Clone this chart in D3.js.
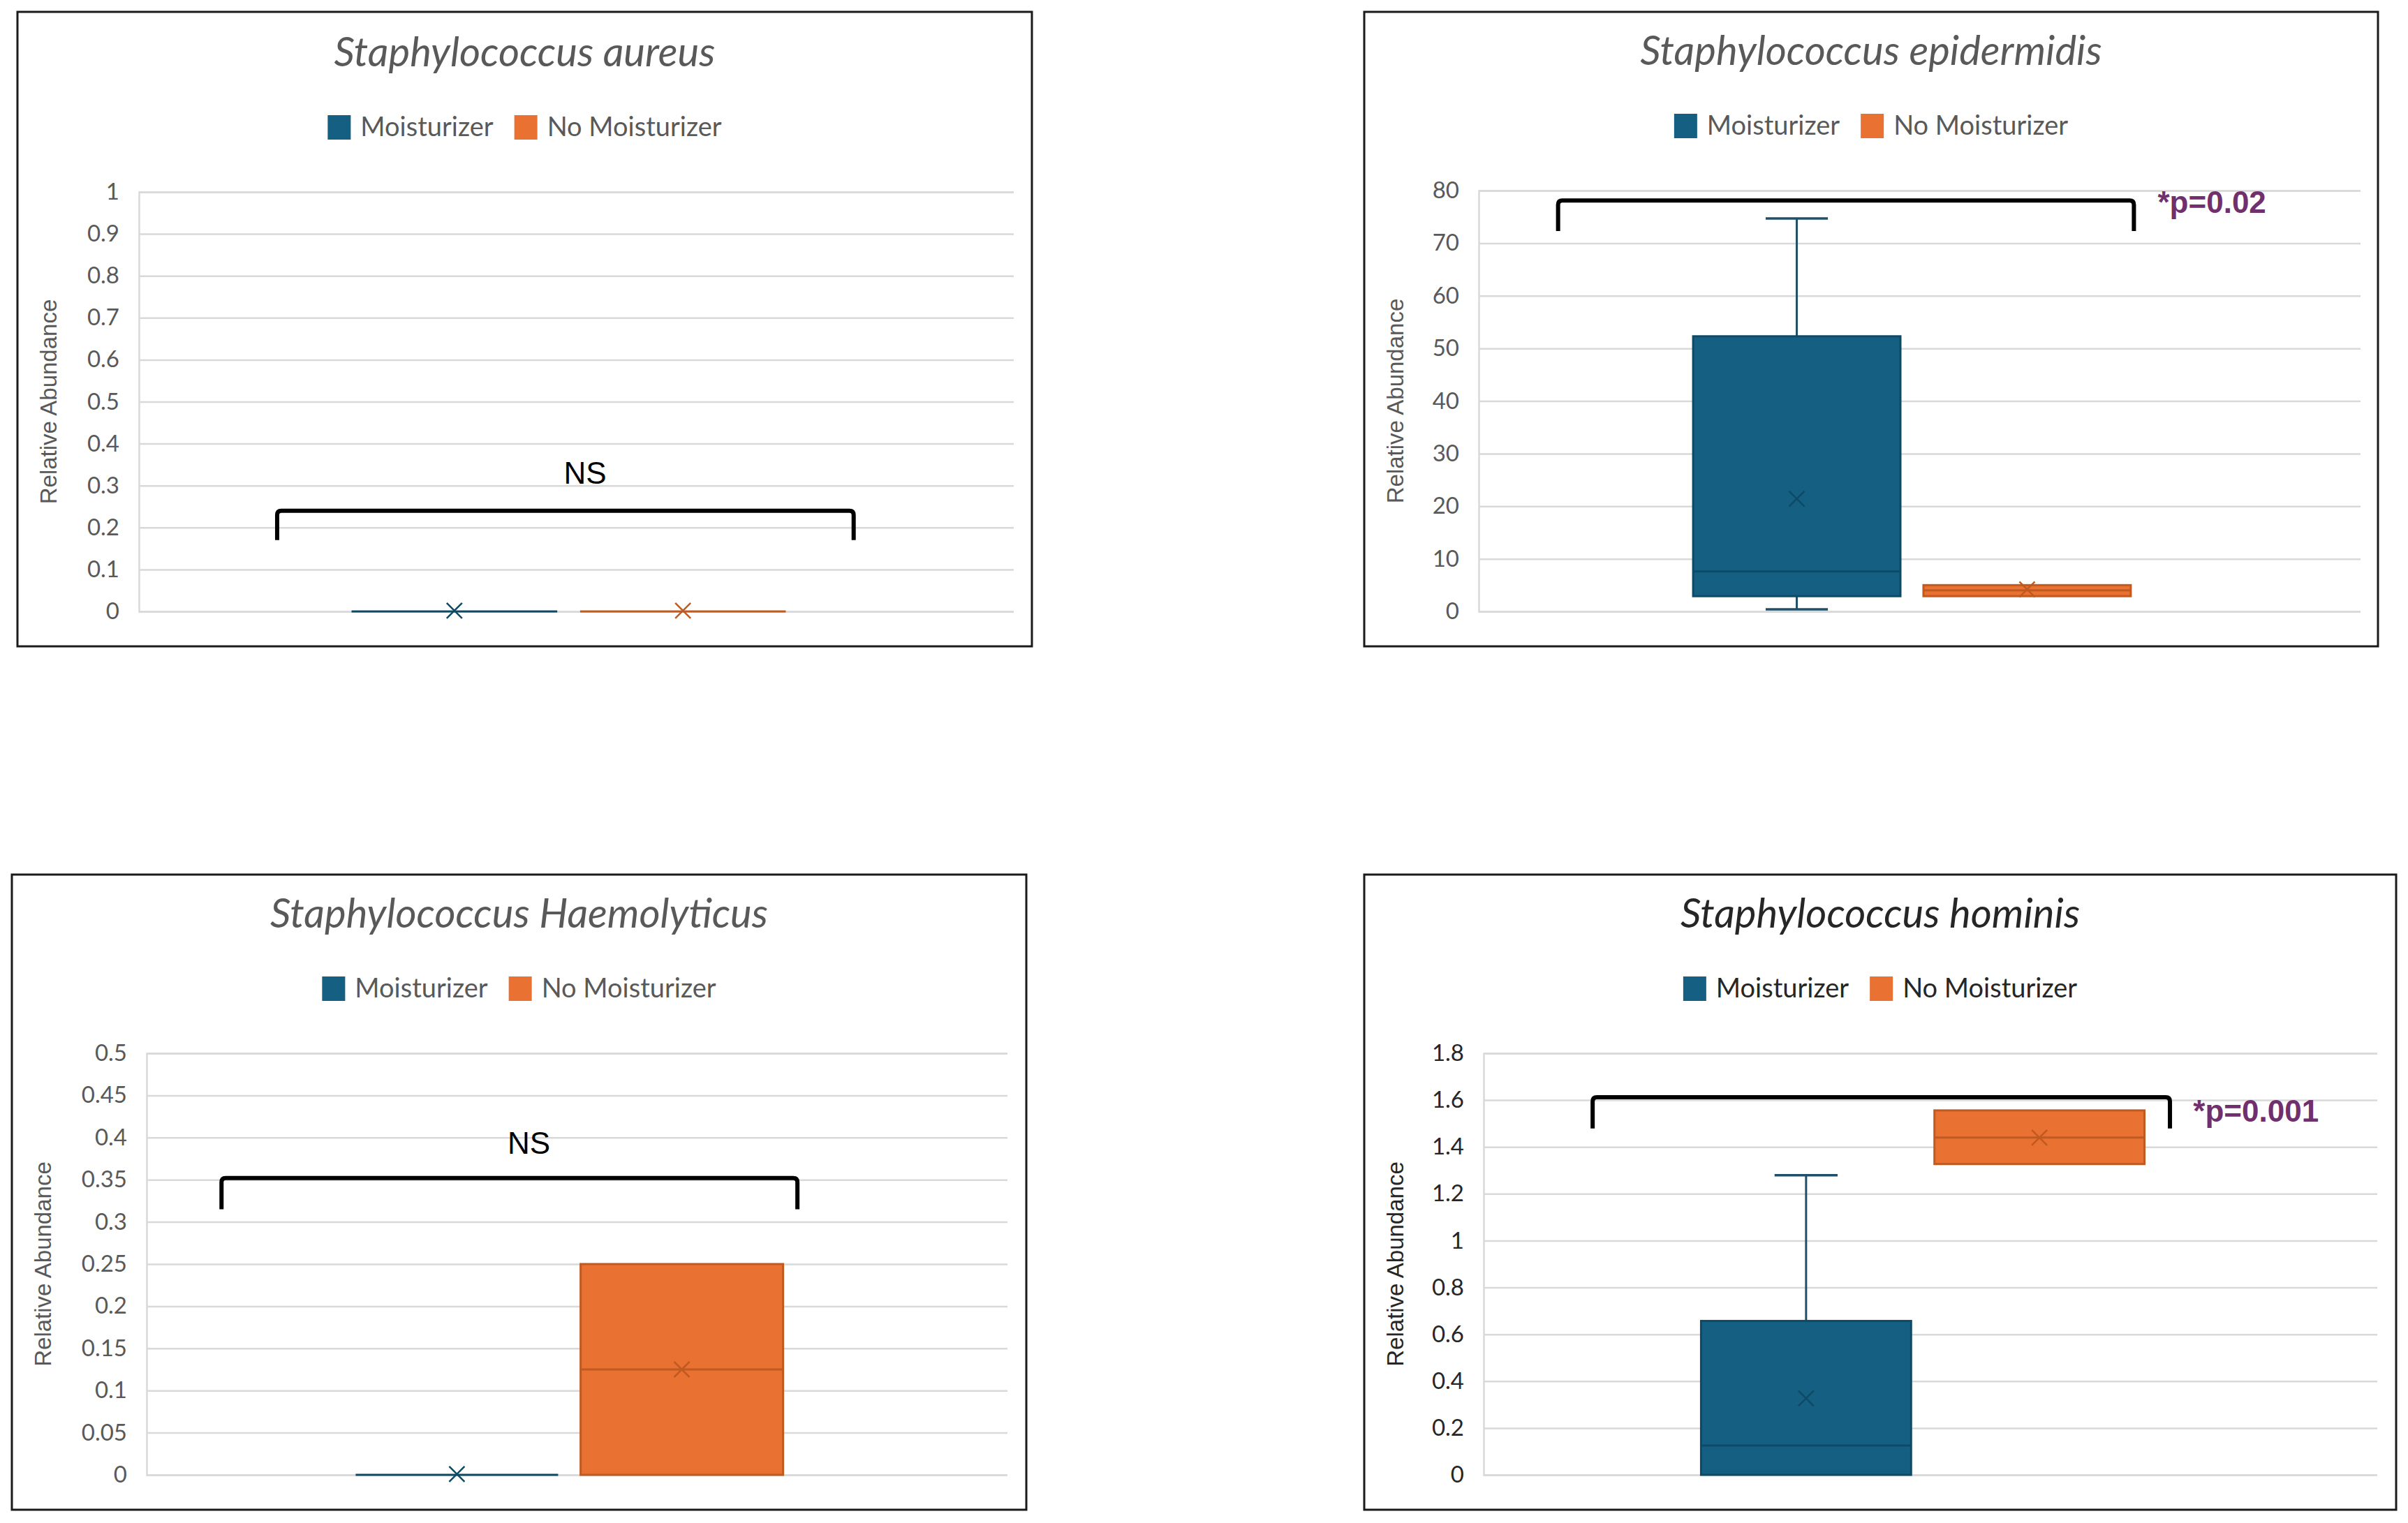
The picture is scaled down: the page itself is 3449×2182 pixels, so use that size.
<!DOCTYPE html>
<html>
<head>
<meta charset="utf-8">
<script src="https://cdn.jsdelivr.net/npm/d3@7"></script>
<style>
  body { margin: 0; background: #fff; }
</style>
</head>
<body>
<svg id="chart"></svg>
<script>
const W = 3449, H = 2182;

// chart data
const titles = ['Staphylococcus aureus', 'Staphylococcus epidermidis', 'Staphylococcus Haemolyticus', 'Staphylococcus hominis'];
const groups = ['Moisturizer', 'No Moisturizer'];
const yMaxes = [1, 80, 0.5, 1.8];
const yTickValues = [
    [0, 0.1, 0.2, 0.3, 0.4, 0.5, 0.6, 0.7, 0.8, 0.9, 1],
    [0, 10, 20, 30, 40, 50, 60, 70, 80],
    [0, 0.05, 0.1, 0.15, 0.2, 0.25, 0.3, 0.35, 0.4, 0.45, 0.5],
    [0, 0.2, 0.4, 0.6, 0.8, 1, 1.2, 1.4, 1.6, 1.8]
];
// [min, q1, median, q3, max, mean]
const moisturizerStats = [
    [0, 0, 0, 0, 0, 0.002],
    [0.4, 2.9, 7.6, 52.3, 74.7, 21.4],
    [0, 0, 0, 0, 0, 0.001],
    [0, 0, 0.125, 0.657, 1.279, 0.327]
];
const noMoisturizerStats = [
    [0, 0, 0, 0, 0, 0.002],
    [2.9, 2.9, 4.0, 5.0, 5.0, 4.2],
    [0, 0, 0.125, 0.25, 0.25, 0.125],
    [1.327, 1.327, 1.44, 1.556, 1.556, 1.44]
];
const sigLabels = ['NS', '*p=0.02', 'NS', '*p=0.001'];
const bracketTop = [0.24, 78.1, 0.352, 1.612];
const bracketEnd = [0.17, 72.3, 0.315, 1.479];
const labelValue = [0.305, 75.8, 0.381, 1.508];

// layout
const colors = ['#156082', '#E97132'];
const darker = ['#0e4a66', '#c05a20'];
const whiskerColor = ['#1f5068', '#b8581f'];
const frames = [
    {x: 25, y: 17, w: 1453, h: 909},
    {x: 1954, y: 17, w: 1452, h: 909},
    {x: 17, y: 1253, w: 1453, h: 910},
    {x: 1954, y: 1253, w: 1478, h: 910}
];
const plots = [
    {l: 199, r: 1452, t: 275, b: 876},
    {l: 2118, r: 3381, t: 273, b: 876},
    {l: 210, r: 1443, t: 1509, b: 2113},
    {l: 2125, r: 3405, t: 1509, b: 2113}
];
const bracketX = [[0.158, 0.817], [0.090, 0.743], [0.087, 0.756], [0.122, 0.768]];
const labelX = [0.51, 0.770, 0.444, 0.794];
const textGrey = ['#595959', '#595959', '#595959', '#262626'];

const svg = d3.select('#chart').attr('width', W).attr('height', H);

titles.forEach((title, i) => {
    const f = frames[i], p = plots[i];
    const g = svg.append('g');

    g.append('rect')
        .attr('x', f.x).attr('y', f.y).attr('width', f.w).attr('height', f.h)
        .attr('fill', '#fff').attr('stroke', '#1a1a1a').attr('stroke-width', 3);

    // title
    g.append('text')
        .attr('x', f.x + f.w / 2).attr('y', p.t - 180)
        .attr('text-anchor', 'middle')
        .style('font-family', 'Lato, "Open Sans", sans-serif')
        .style('font-style', 'italic')
        .style('font-size', '58px')
        .attr('fill', textGrey[i])
        .text(title);

    // legend
    const leg = g.append('g');
    let lx = 0;
    groups.forEach((name, k) => {
        leg.append('rect').attr('x', lx).attr('y', -17).attr('width', 33).attr('height', 35)
            .attr('fill', colors[k]);
        const t = leg.append('text').attr('x', lx + 47).attr('y', 13)
            .style('font-family', 'Lato, "Open Sans", sans-serif')
            .style('font-size', '38px')
            .attr('fill', textGrey[i])
            .text(name);
        lx += 47 + t.node().getComputedTextLength() + 30;
    });
    lx -= 30;
    leg.attr('transform', `translate(${f.x + f.w / 2 - lx / 2},${p.t - 93})`);

    // scales
    const y = d3.scaleLinear().domain([0, yMaxes[i]]).range([p.b, p.t]);
    const pw = p.r - p.l;
    // the category band sits a little left of the plot centre, as in the source
    const xCat = d3.scaleBand().domain(['all']).range([p.l - 22, p.r]).paddingOuter(0.525);
    const xGrp = d3.scaleBand().domain(groups).range([xCat('all'), xCat('all') + xCat.bandwidth()]).paddingInner(0.1);

    // grid + axis
    const axis = d3.axisLeft(y)
        .tickValues(yTickValues[i])
        .tickSize(-pw)
        .tickPadding(28)
        .tickFormat(d => String(+d.toFixed(2)));
    const ax = g.append('g').attr('transform', `translate(${p.l},0)`).call(axis);
    ax.select('.domain').attr('stroke', '#d9d9d9').attr('stroke-width', 2.5);
    ax.selectAll('.tick line').attr('stroke', '#d9d9d9').attr('stroke-width', 2.5);
    ax.selectAll('.tick text')
        .attr('fill', textGrey[i])
        .style('font-family', 'Lato, "Open Sans", sans-serif')
        .style('font-size', '33px');

    g.append('text')
        .attr('transform', `translate(${f.x + 44},${(p.t + p.b) / 2}) rotate(-90)`)
        .attr('text-anchor', 'middle')
        .attr('dy', '0.35em')
        .style('font-family', '"Liberation Sans", Arial, sans-serif')
        .style('font-size', '33px')
        .attr('fill', textGrey[i])
        .text('Relative Abundance');

    // boxes
    const stats = [moisturizerStats[i], noMoisturizerStats[i]];
    stats.forEach((s, k) => {
        const [mn, q1, med, q3, mx, mean] = s;
        const x0 = xGrp(groups[k]), bw = xGrp.bandwidth(), cx = x0 + bw / 2;
        const cap = bw * 0.3;
        if (mx > q3) {
            g.append('line').attr('x1', cx).attr('x2', cx).attr('y1', y(q3)).attr('y2', y(mx))
                .attr('stroke', whiskerColor[k]).attr('stroke-width', 3);
            g.append('line').attr('x1', cx - cap / 2).attr('x2', cx + cap / 2).attr('y1', y(mx)).attr('y2', y(mx))
                .attr('stroke', whiskerColor[k]).attr('stroke-width', 3.5);
        }
        if (mn < q1) {
            g.append('line').attr('x1', cx).attr('x2', cx).attr('y1', y(q1)).attr('y2', y(mn))
                .attr('stroke', whiskerColor[k]).attr('stroke-width', 3);
            g.append('line').attr('x1', cx - cap / 2).attr('x2', cx + cap / 2).attr('y1', y(mn)).attr('y2', y(mn))
                .attr('stroke', whiskerColor[k]).attr('stroke-width', 3.5);
        }
        g.append('rect')
            .attr('x', x0).attr('y', y(q3)).attr('width', bw).attr('height', Math.max(0, y(q1) - y(q3)))
            .attr('fill', colors[k]).attr('stroke', darker[k]).attr('stroke-width', 3);
        g.append('line').attr('x1', x0).attr('x2', x0 + bw).attr('y1', y(med)).attr('y2', y(med))
            .attr('stroke', darker[k]).attr('stroke-width', 3);
        const m = 11, my = y(mean);
        g.append('path')
            .attr('d', `M${cx - m},${my - m}L${cx + m},${my + m}M${cx - m},${my + m}L${cx + m},${my - m}`)
            .attr('stroke', darker[k]).attr('stroke-width', 2.5).attr('fill', 'none');
    });

    // significance bracket
    const bx1 = p.l + pw * bracketX[i][0], bx2 = p.l + pw * bracketX[i][1];
    const yt = y(bracketTop[i]), ye = y(bracketEnd[i]);
    g.append('path')
        .attr('d', `M${bx1},${ye}L${bx1},${yt + 6}Q${bx1},${yt} ${bx1 + 6},${yt}` +
            `L${bx2 - 6},${yt}Q${bx2},${yt} ${bx2},${yt + 6}L${bx2},${ye}`)
        .attr('fill', 'none').attr('stroke', '#000').attr('stroke-width', 6);

    const isNS = sigLabels[i] === 'NS';
    g.append('text')
        .attr('x', p.l + pw * labelX[i]).attr('y', y(labelValue[i]))
        .attr('text-anchor', isNS ? 'middle' : 'start')
        .style('font-family', '"Liberation Sans", Arial, sans-serif')
        .style('font-size', '44px')
        .style('font-weight', isNS ? 'normal' : 'bold')
        .attr('fill', isNS ? '#000' : '#70306e')
        .text(sigLabels[i]);
});
</script>
</body>
</html>
